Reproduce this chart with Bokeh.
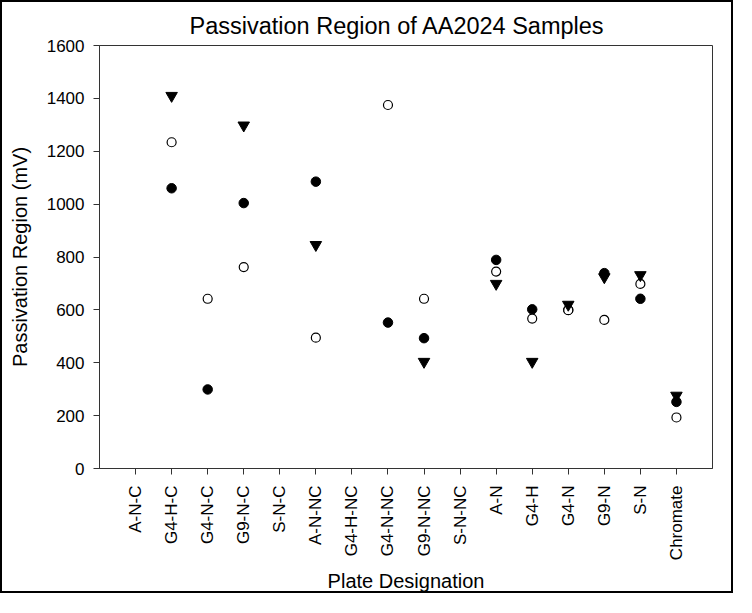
import math
import numpy as np
from bokeh.plotting import figure
from bokeh.models import FixedTicker, ColumnDataSource
from bokeh.embed import file_html
from bokeh.resources import INLINE

nan = float("nan")

categories = ["A-N-C", "G4-H-C", "G4-N-C", "G9-N-C", "S-N-C", "A-N-NC", "G4-H-NC",
              "G4-N-NC", "G9-N-NC", "S-N-NC", "A-N", "G4-H", "G4-N", "G9-N", "S-N", "Chromate"]
filled_circle = [nan, 1060, 299, 1004, nan, 1085, nan, 552, 493, nan, 789, 602, 600, 739, 642, 252]
open_circle = [nan, 1234, 642, 762, nan, 495, nan, 1375, 642, nan, 745, 567, 599, 562, 698, 193]
triangle = [nan, 1410, nan, 1298, nan, 846, nan, nan, 404, nan, 699, 404, 620, 724, 732, 276]
y_ticks = [0, 200, 400, 600, 800, 1000, 1200, 1400, 1600]

xpos = list(range(1, len(categories) + 1))

FONT = "Liberation Sans"

p = figure(width=733, height=593, output_backend="svg", toolbar_location=None,
           x_range=(0, len(categories) + 1), y_range=(0, 1600),
           title="Passivation Region of AA2024 Samples",
           min_border_left=97, min_border_right=23, min_border_top=43, min_border_bottom=122)
p.styles = {"border": "2px solid black"}

p.title.text_font = FONT
p.title.text_font_size = "23.5px"
p.title.text_font_style = "normal"
p.title.text_color = "black"
p.title.align = "left"
p.title.offset = 90
p.title.standoff = 14

p.grid.visible = False
p.outline_line_color = "#333333"
p.outline_line_width = 1

src = ColumnDataSource(dict(x=xpos, f=filled_circle, o=open_circle, t=triangle))

p.scatter("x", "f", source=src, marker="circle", size=9.5, fill_color="black", line_color="black")
p.scatter("x", "o", source=src, marker="circle", size=9, fill_color="white", line_color="black", line_width=1.2)
p.scatter("x", "t", source=src, marker="inverted_triangle", size=11.5, fill_color="black", line_color="black")

# axes
p.xaxis.ticker = FixedTicker(ticks=xpos)
p.xaxis.major_label_overrides = {i: c for i, c in zip(xpos, categories)}
p.xaxis.major_label_orientation = math.pi / 2
p.yaxis.ticker = FixedTicker(ticks=y_ticks)
for ax in (p.xaxis, p.yaxis):
    ax.major_label_text_font = FONT
    ax.major_label_text_font_size = "17px"
    ax.major_label_text_color = "black"
    ax.axis_label_text_font = FONT
    ax.axis_label_text_font_size = "20px"
    ax.axis_label_text_font_style = "normal"
    ax.axis_label_text_color = "black"
    ax.axis_line_color = "#333333"
    ax.major_tick_line_color = "#333333"
    ax.major_tick_in = 0
    ax.major_tick_out = 6
    ax.minor_tick_line_color = None
    ax.major_label_standoff = 9
p.xaxis.major_label_standoff = 11
p.xaxis.axis_label = "Plate Designation"
p.yaxis.axis_label = "Passivation Region (mV)"
p.xaxis.axis_label_standoff = 7
p.yaxis.axis_label_standoff = 13

open("out.html", "w").write(file_html(p, INLINE))
